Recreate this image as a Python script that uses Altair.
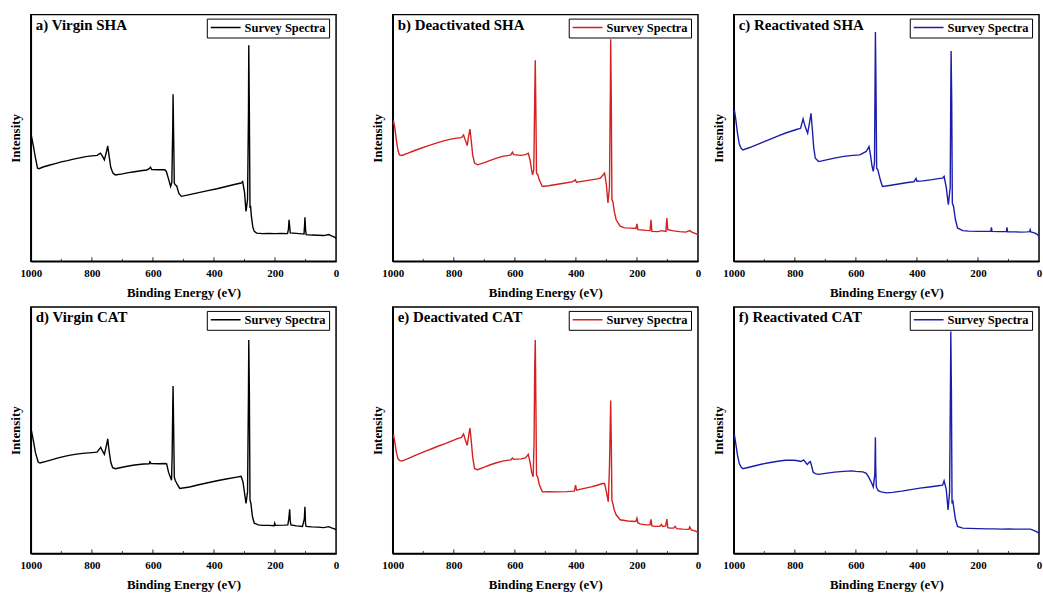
import altair as alt
import pandas as pd

# ---------------- data (binding energy eV, intensity in % of panel height) -------------
A_VIRGIN_SHA = [(1000, 49.5), (997, 50.1), (992, 47), (985, 42), (978, 37.7), (973, 37.5), (960, 38.2),
    (940, 38.9), (920, 39.6), (900, 40.3), (880, 40.8), (860, 41.4), (840, 41.9), (820, 42.4), (800, 42.7),
    (783, 42.9), (772, 43.8), (765, 42.5), (759, 41.1), (752, 44.5), (748, 46.8), (744, 43), (738, 38),
    (731, 35.7), (723, 35.0), (700, 35.4), (680, 35.9), (660, 36.3), (640, 36.7), (620, 37.0), (612, 37.5),
    (608, 38.1), (604, 37.2), (580, 37.1), (561, 37.1), (556, 36.4), (548, 33), (542, 30.3), (538, 32),
    (535, 55), (534, 67.7), (532, 50), (530, 31.7), (527, 31.0), (522, 30.5), (515, 27.5), (507, 26.3),
    (480, 27.0), (450, 27.8), (420, 28.6), (390, 29.4), (360, 30.3), (330, 31.2), (311, 31.7), (306, 32.3),
    (300, 28), (295, 20.2), (290, 25), (287, 60), (286, 87.6), (284, 60), (282, 21.6), (280, 22.5),
    (278, 18.9), (273, 14), (268, 12.1), (260, 11.4), (241, 11.2), (220, 11.3), (200, 11.2), (180, 11.3),
    (159, 11.2), (156, 13), (154, 16.8), (152, 14), (150, 11.5), (130, 11.3), (105, 11.0), (103, 15),
    (102, 17.8), (100, 13), (98, 10.8), (80, 10.6), (60, 10.5), (40, 10.4), (24, 10.8), (15, 10.3),
    (5, 9.8), (0, 9.2)]

B_DEACT_SHA = [(1000, 55.5), (997, 56.6), (993, 54), (988, 49), (983, 45), (978, 43.1), (970, 42.9),
    (950, 43.8), (930, 44.8), (910, 45.7), (890, 46.6), (870, 47.4), (850, 48.2), (830, 48.9), (810, 49.5),
    (790, 49.9), (775, 50.1), (768, 51.2), (762, 49), (756, 46.9), (751, 51), (747, 53.6), (743, 49),
    (738, 43), (732, 39.8), (722, 39.1), (700, 40.0), (680, 40.9), (660, 41.8), (640, 42.5), (620, 42.9),
    (613, 43.1), (608, 44.2), (604, 43.2), (580, 42.9), (565, 43.2), (556, 43.8), (550, 41), (545, 37),
    (542, 35.0), (538, 37), (535, 65), (533, 81.5), (531, 60), (529, 35.7), (525, 35.2), (520, 33),
    (510, 30.3), (490, 30.6), (460, 31.2), (430, 31.8), (410, 32.3), (402, 33.0), (400, 32.5), (398, 32.0),
    (380, 32.4), (350, 33.0), (330, 33.4), (320, 33.7), (306, 35.7), (300, 31), (295, 23.6), (290, 30),
    (287, 70), (286, 90.0), (284, 65), (282, 24.9), (279, 24.3), (274, 20), (268, 16.8), (255, 14.2),
    (240, 13.5), (220, 13.4), (203, 13.3), (200, 15.1), (197, 12.8), (170, 12.5), (157, 12.4), (154, 16.8),
    (151, 12.1), (130, 12.0), (120, 12.4), (105, 12.1), (102, 17.5), (99, 12.8), (80, 12.3), (60, 12.0),
    (40, 11.8), (27, 12.4), (20, 11.8), (10, 11.3), (0, 10.8)]

C_REACT_SHA = [(1000, 60.5), (998, 61.3), (994, 58), (988, 52), (982, 47.5), (976, 45.8), (970, 45.1),
    (950, 46.0), (930, 47.0), (910, 48.0), (890, 49.0), (870, 50.0), (850, 51.0), (830, 52.0), (810, 52.8),
    (795, 53.4), (781, 53.9), (773, 57.7), (766, 54.5), (758, 51.9), (752, 56), (747, 60.0), (743, 54),
    (738, 46), (733, 41.8), (722, 40.4), (700, 41.0), (670, 41.8), (640, 42.5), (610, 42.9), (587, 43.1),
    (566, 44.5), (557, 46.5), (552, 43), (547, 38.5), (543, 36.4), (539, 40), (537, 75), (536, 93.0),
    (534, 70), (532, 37.7), (528, 37.1), (520, 33), (513, 30.3), (490, 30.7), (460, 31.3), (430, 31.9),
    (410, 32.2), (403, 33.6), (400, 32.4), (380, 32.6), (350, 33.1), (330, 33.5), (316, 33.7), (311, 34.4),
    (304, 30), (297, 22.9), (291, 30), (289, 70), (288, 85.2), (286, 65), (284, 23.6), (280, 22.2),
    (274, 17), (267, 13.5), (250, 12.4), (230, 12.2), (200, 12.1), (170, 12.1), (158, 12.1), (156, 13.7),
    (154, 12.1), (130, 12.0), (107, 12.0), (105, 13.7), (103, 11.9), (80, 11.9), (60, 11.8), (40, 11.9),
    (31, 12.0), (29, 12.8), (27, 11.9), (15, 11.5), (5, 10.8), (0, 10.1)]

D_VIRGIN_CAT = [(1000, 48.5), (997, 49.1), (992, 46), (985, 41), (976, 37.1), (970, 36.7), (950, 37.4),
    (930, 38.1), (910, 38.8), (890, 39.4), (870, 39.9), (850, 40.3), (830, 40.6), (800, 40.9), (783, 41.1),
    (771, 43.1), (765, 41.5), (759, 40.2), (752, 44), (748, 46.5), (744, 42), (738, 37), (732, 34.8),
    (723, 34.4), (700, 35.0), (680, 35.5), (660, 35.9), (630, 36.3), (612, 36.4), (610, 37.2), (606, 36.5),
    (580, 36.4), (560, 36.5), (555, 36.4), (549, 33), (539, 29.7), (537, 40), (535, 60), (534, 67.9),
    (532, 50), (530, 31.1), (527, 29.7), (520, 28), (512, 26.4), (480, 27.0), (450, 27.9), (420, 28.7),
    (390, 29.5), (360, 30.2), (330, 30.9), (311, 31.3), (305, 29), (295, 20.3), (290, 25), (287, 65),
    (286, 86.6), (284, 65), (282, 21.7), (279, 20.3), (274, 15), (268, 12.3), (255, 11.6), (241, 11.4),
    (220, 11.4), (203, 11.3), (201, 12.3), (199, 11.4), (170, 11.5), (158, 11.6), (155, 14), (152, 17.9),
    (150, 13), (148, 11.6), (130, 11.2), (110, 11.0), (104, 14), (102, 19.0), (100, 12), (98, 11.0),
    (80, 10.8), (60, 10.7), (40, 10.5), (24, 10.9), (15, 10.4), (5, 10.0), (0, 9.6)]

E_DEACT_CAT = [(1000, 47.2), (997, 47.8), (993, 45), (988, 41), (983, 38.5), (978, 37.8), (970, 37.5),
    (950, 38.5), (930, 39.6), (910, 40.6), (890, 41.6), (870, 42.6), (850, 43.6), (830, 44.5), (810, 45.5),
    (790, 46.5), (775, 47.1), (768, 48.5), (762, 46), (756, 43.8), (751, 48), (747, 50.9), (743, 46),
    (738, 39), (732, 34.4), (722, 34.0), (700, 35.0), (680, 36.0), (660, 36.8), (640, 37.5), (620, 37.9),
    (613, 38.0), (608, 38.7), (604, 38.2), (580, 38.4), (565, 38.8), (556, 40.2), (550, 37), (545, 33),
    (540, 31.1), (537, 45), (535, 75), (533, 86.6), (531, 60), (529, 31.7), (525, 31.0), (520, 28),
    (510, 25.0), (490, 25.1), (460, 25.0), (430, 25.1), (405, 25.3), (401, 27.7), (398, 25.7), (380, 26.2),
    (350, 27.0), (330, 27.7), (313, 28.4), (306, 28.4), (300, 25), (294, 21.0), (290, 35), (287, 55),
    (286, 62.1), (284, 45), (282, 21.7), (279, 20.3), (274, 17.5), (268, 15.7), (255, 13.7), (230, 13.2),
    (206, 13.0), (203, 13.2), (200, 14.3), (197, 12.5), (190, 12.0), (170, 11.6), (157, 11.6), (154, 13.9),
    (151, 11.2), (140, 11.0), (125, 11.0), (120, 11.8), (116, 11.0), (106, 11.2), (102, 14.0), (99, 10.5),
    (90, 10.3), (80, 10.3), (75, 11.0), (70, 10.1), (50, 9.9), (30, 9.8), (27, 10.8), (22, 9.6), (10, 9.2),
    (0, 8.6)]

F_REACT_CAT = [(1000, 47.5), (998, 48.2), (994, 45), (988, 40), (982, 36.5), (976, 35.1), (970, 34.4),
    (950, 35.0), (930, 35.6), (910, 36.2), (890, 36.7), (870, 37.1), (850, 37.5), (830, 37.8), (803, 37.8),
    (790, 37.6), (780, 37.3), (771, 38.0), (764, 36.8), (759, 36.1), (753, 37.0), (749, 37.3), (745, 35.5),
    (740, 33), (733, 32.4), (722, 32.1), (700, 32.5), (670, 33.0), (640, 33.3), (614, 33.5), (600, 33.3),
    (577, 33.1), (566, 32.5), (558, 31), (548, 28.5), (543, 27.0), (538, 32), (536, 47.1), (535, 35),
    (533, 27.0), (527, 25.5), (517, 25.0), (500, 24.6), (480, 24.8), (450, 25.3), (420, 25.9), (390, 26.5),
    (360, 27.0), (330, 27.5), (316, 27.7), (311, 29.5), (304, 26), (298, 17.7), (293, 25), (290, 70),
    (289, 90.0), (287, 65), (285, 20.3), (282, 21), (279, 18.3), (274, 14), (267, 11.0), (250, 10.3),
    (230, 10.2), (200, 10.1), (170, 10.0), (150, 10.0), (120, 9.9), (100, 10.0), (80, 9.9), (60, 9.9),
    (40, 9.9), (28, 9.9), (20, 9.5), (10, 9.0), (0, 8.3)]

TITLES = ["a) Virgin SHA", "b) Deactivated SHA", "c) Reactivated SHA",
          "d) Virgin CAT", "e) Deactivated CAT", "f) Reactivated CAT"]
Y_TITLES = ["Intensity", "Intensity", "Intesnity", "Intensity", "Intensity", "Intensity"]
COLORS = ["#000000", "#d42020", "#1c1cab", "#000000", "#d42020", "#1c1cab"]
SPECTRA = [A_VIRGIN_SHA, B_DEACT_SHA, C_REACT_SHA, D_VIRGIN_CAT, E_DEACT_CAT, F_REACT_CAT]
SERIES = "Survey Spectra"
X_LABELS = [1000, 800, 600, 400, 200, 0]
MAJOR_TICKS = [800, 600, 400, 200]
MINOR_TICKS = [900, 700, 500, 300, 100]

# ---------------- layout / style -------------
W, H = 307, 248
FONT = "Liberation Serif"


def panel(title, ytitle, color, pts):
    df = pd.DataFrame(pts, columns=["E", "I"])
    df["s"] = SERIES
    xs = alt.Scale(domain=[0, 1000], reverse=True, nice=False, zero=False)
    ys = alt.Scale(domain=[0, 100], nice=False)
    line = alt.Chart(df).mark_line(strokeWidth=1.4, clip=True).encode(
        x=alt.X("E:Q", scale=xs,
                axis=alt.Axis(values=X_LABELS, format="d", title="Binding Energy (eV)")),
        y=alt.Y("I:Q", scale=ys, axis=alt.Axis(labels=False, title=ytitle)),
        color=alt.Color("s:N", scale=alt.Scale(domain=[SERIES], range=[color]),
                        legend=alt.Legend(title=None, orient="none", legendX=177, legendY=4,
                                          strokeColor="black", padding=3, symbolType="stroke",
                                          symbolSize=900, symbolStrokeWidth=1.5, labelOffset=3,
                                          clipHeight=12,
                                          labelFont=FONT, labelFontSize=12.5, labelFontWeight="bold",
                                          labelColor="black")),
    )
    major = alt.Chart(pd.DataFrame({"E": MAJOR_TICKS})).mark_tick(
        orient="vertical", size=4, thickness=1.2, color="black").encode(
        x=alt.X("E:Q"), y=alt.value(H - 2))
    minor = alt.Chart(pd.DataFrame({"E": MINOR_TICKS})).mark_tick(
        orient="vertical", size=2.5, thickness=1, color="black").encode(
        x=alt.X("E:Q"), y=alt.value(H - 1.25))
    label = alt.Chart(pd.DataFrame({"t": [title]})).mark_text(
        align="left", baseline="alphabetic", font=FONT, fontSize=15, fontWeight="bold",
        color="black").encode(text="t:N", x=alt.value(5), y=alt.value(15))
    return alt.layer(line, major, minor, label).properties(width=W, height=H)


charts = [panel(TITLES[i], Y_TITLES[i], COLORS[i], SPECTRA[i]) for i in range(6)]


def row(a, b, c):
    inner = alt.hconcat(b, c, spacing=10).resolve_scale(color="independent")
    return alt.hconcat(a, inner, spacing=31).resolve_scale(color="independent")


chart = alt.vconcat(row(*charts[:3]), row(*charts[3:]), spacing=6).resolve_scale(
    color="independent"
).properties(
    padding={"left": 9, "top": 12, "right": 0, "bottom": 0},
    background="white",
).configure_view(
    stroke="black", strokeWidth=1.5
).configure_axis(
    grid=False, ticks=False, domainColor="black", domainWidth=1.5,
    labelFont=FONT, labelFontSize=11, labelFontWeight="bold", labelColor="black", labelPadding=6,
    labelFlush=False,
    titleFont=FONT, titleFontSize=13, titleFontWeight="bold", titleColor="black", titlePadding=8,
)

chart.save("out.html", embed_options={"renderer": "svg", "actions": False})
